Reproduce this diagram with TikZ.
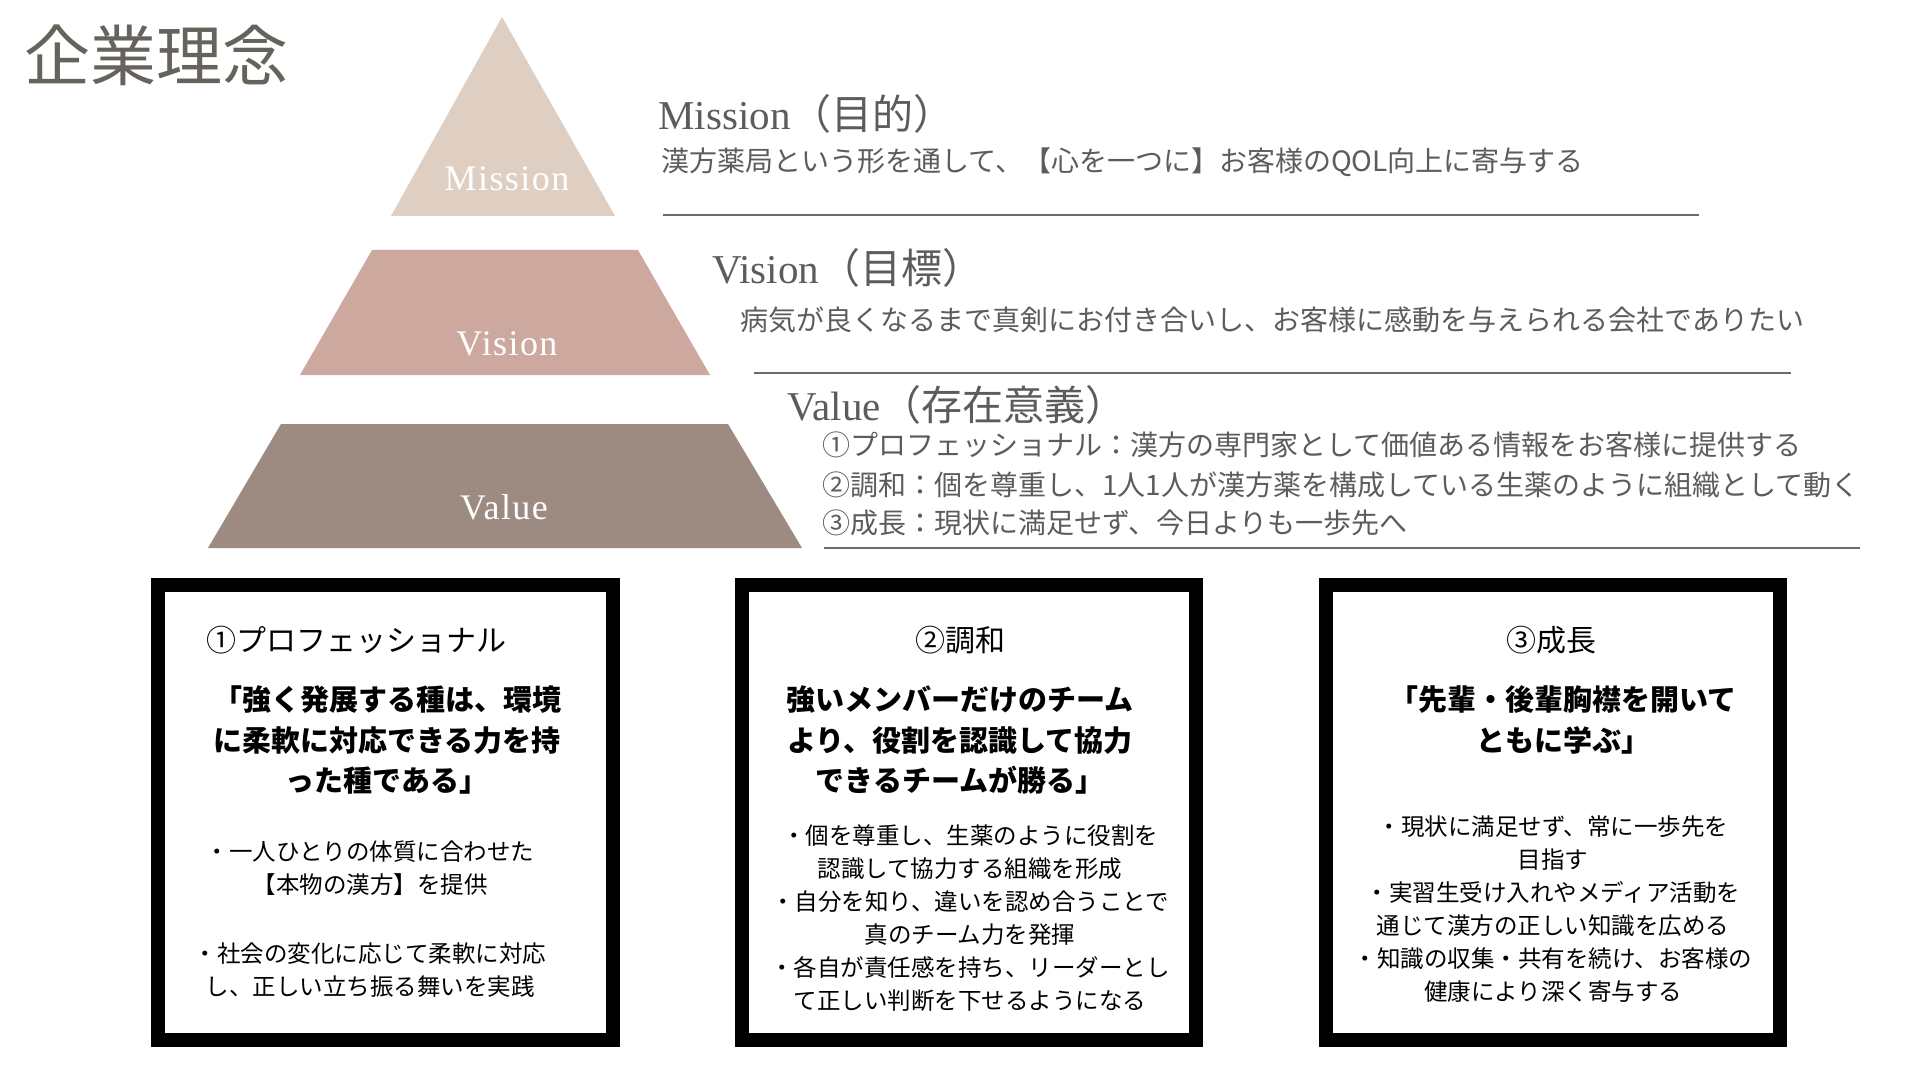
\documentclass[tikz,border=0pt]{standalone}
\usepackage{fontspec}
\setmainfont{Liberation Serif}
\newfontfamily\jp{Noto Sans CJK JP}
\usepackage{xcolor}
\usepackage{tikz}

\definecolor{titlegray}{HTML}{65635B}
\definecolor{textgray}{HTML}{5C5C5C}
\definecolor{linegray}{HTML}{6E6A64}
\definecolor{missioncol}{HTML}{DFCFC3}
\definecolor{visioncol}{HTML}{CCA89F}
\definecolor{valuecol}{HTML}{9D8A80}
\newcommand{\fs}[2]{\fontsize{#1}{#2}\selectfont}

\begin{document}
\begin{tikzpicture}[x=0.5pt, y=-0.5pt,
    tier/.style = {text=white, inner sep=0, font=\fs{18}{21}\addfontfeatures{LetterSpace=4}},
    head/.style = {anchor=base west, inner sep=0, text=textgray, font=\fs{20.5}{24}},
    desc/.style = {anchor=base west, inner sep=0, text=textgray, font=\jp\fs{14}{17}},
    rule/.style = {linegray, line width=1.3pt},
    frame/.style = {draw=black, line width=7pt},
    boxtitle/.style = {inner sep=0, font=\jp\fs{15}{18}},
    quote/.style = {inner sep=0, align=center, font=\jp\bfseries\fs{14.5}{20.25}},
    bullets/.style = {inner sep=0, align=center, font=\jp\fs{11.75}{16.5}}]
        \useasboundingbox (0,0) rectangle (1920,1080);
        \fill[white] (0,0) rectangle (1920,1080);
        \node[anchor=base west, inner sep=0, text=titlegray, font=\jp\fs{33}{36}] (title) at (24,81) {企業理念};

        % pyramid
        \fill[missioncol] (502,17) -- (615,216) -- (391,216) -- cycle;
        \fill[visioncol] (372,250) -- (638,250) -- (710,375) -- (300,375) -- cycle;
        \fill[valuecol] (281,424) -- (728,424) -- (802,548) -- (208,548) -- cycle;
        \node[tier] (m) at (507,179) {Mission};
        \node[tier] (vi) at (507,344) {Vision};
        \node[tier] (va) at (504,507) {Value};

        % right side texts
        \node[head] (mh) at (658,130) {Mission{\jp （目的）}};
        \node[desc] (md) at (661,172) {漢方薬局という形を通して、【心を一つに】お客様のQOL向上に寄与する};
        \draw[rule] (663,215) -- (1699,215);
        \node[head] (vih) at (712,284) {Vision{\jp （目標）}};
        \node[desc] (vid) at (740,330) {病気が良くなるまで真剣にお付き合いし、お客様に感動を与えられる会社でありたい};
        \draw[rule] (754,373) -- (1791,373);
        \node[head] (vah) at (787,420) {Value{\jp （存在意義）}};
        \node[desc] (va1) at (822,455) {①プロフェッショナル：漢方の専門家として価値ある情報をお客様に提供する};
        \node[desc] (va2) at (822,495) {②調和：個を尊重し、1人1人が漢方薬を構成している生薬のように組織として動く};
        \node[desc] (va3) at (822,533) {③成長：現状に満足せず、今日よりも一歩先へ};
        \draw[rule] (824,548) -- (1860,548);

        % boxes
        \draw[frame] (158,585) rectangle (613,1040);
        \draw[frame] (742,585) rectangle (1196,1040);
        \draw[frame] (1326,585) rectangle (1780,1040);

        \node[boxtitle, anchor=base west] (b1t) at (206,651) {①プロフェッショナル};
        \node[quote] (b1q) at (387,740) {「強く発展する種は、環境\\に柔軟に対応できる力を持\\った種である」};
        \node[bullets] (b1a) at (370,868) {・一人ひとりの体質に合わせた\\【本物の漢方】を提供};
        \node[bullets] (b1b) at (370,970) {・社会の変化に応じて柔軟に対応\\し、正しい立ち振る舞いを実践};

        \node[boxtitle] (b2t) at (960,640) {②調和};
        \node[quote] (b2q) at (960,740) {強いメンバーだけのチーム\\より、役割を認識して協力\\できるチームが勝る」};
        \node[bullets] (b2a) at (970,918) {・個を尊重し、生薬のように役割を\\認識して協力する組織を形成\\・自分を知り、違いを認め合うことで\\真のチーム力を発揮\\・各自が責任感を持ち、リーダーとし\\て正しい判断を下せるようになる};

        \node[boxtitle] (b3t) at (1551,640) {③成長};
        \node[quote] (b3q) at (1563,720) {「先輩・後輩胸襟を開いて\\ともに学ぶ」};
        \node[bullets] (b3a) at (1553,909) {・現状に満足せず、常に一歩先を\\目指す\\・実習生受け入れやメディア活動を\\通じて漢方の正しい知識を広める\\・知識の収集・共有を続け、お客様の\\健康により深く寄与する};
    \end{tikzpicture}
\end{document}
